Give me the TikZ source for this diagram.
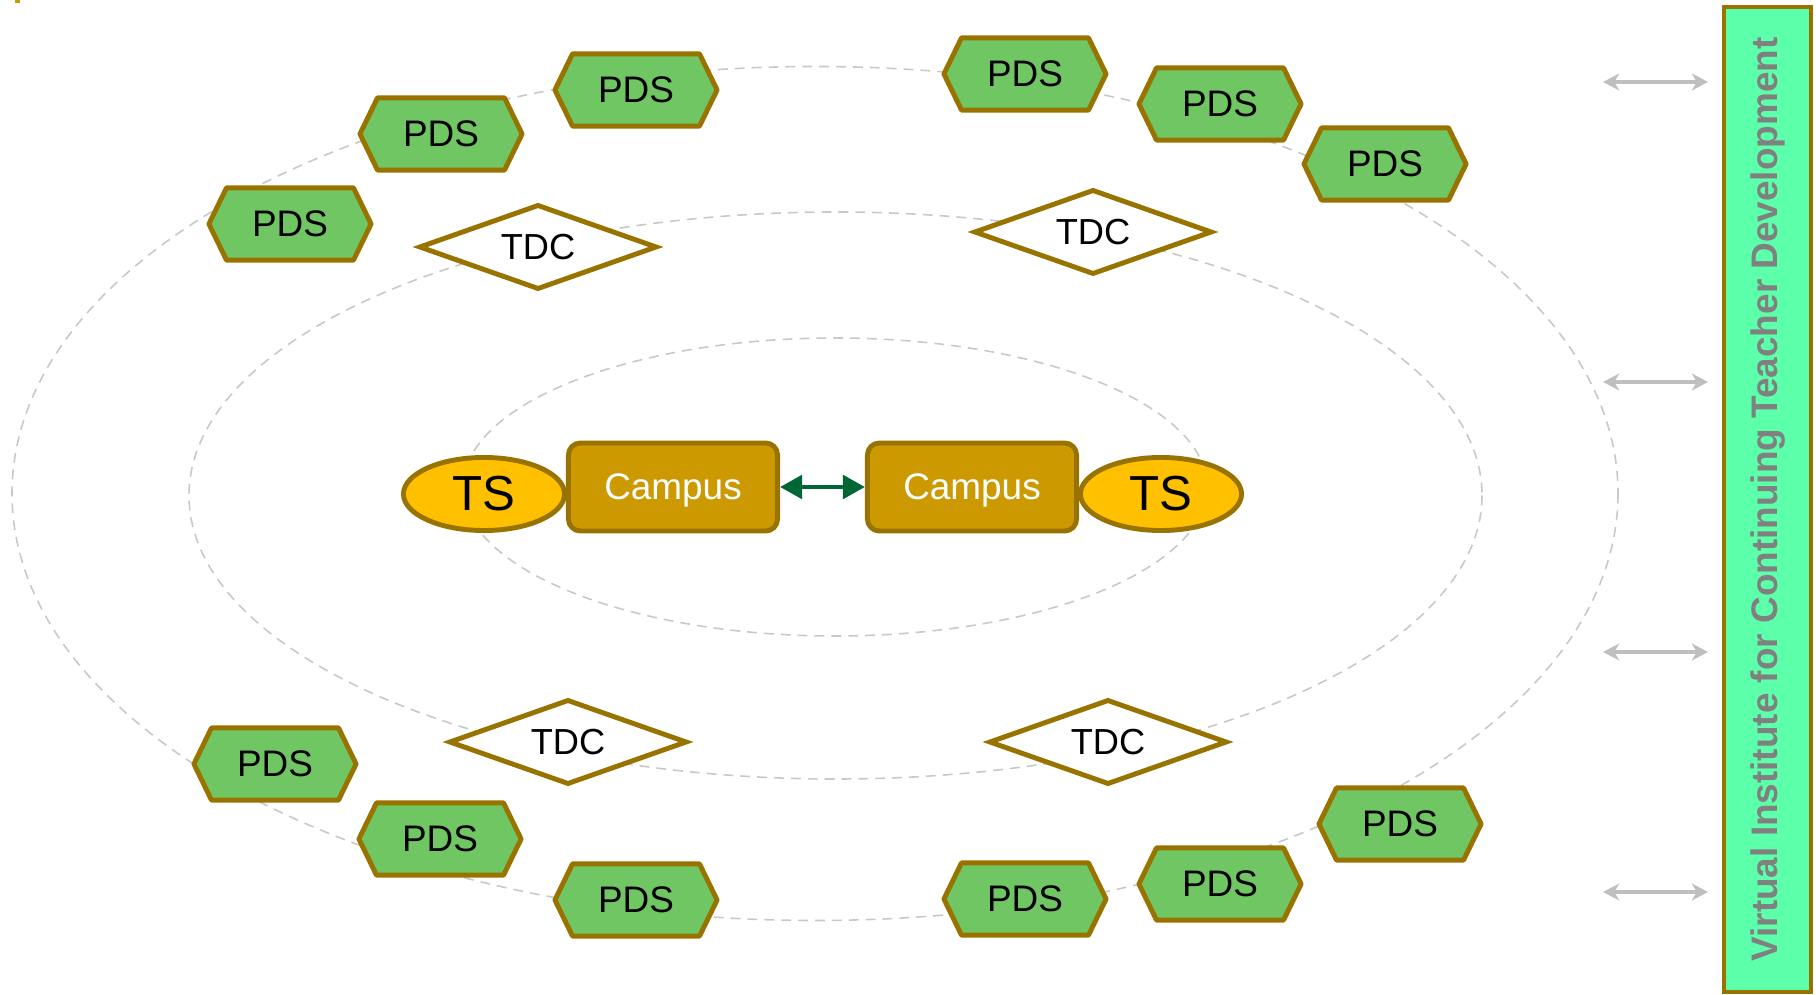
\documentclass[tikz,border=0pt]{standalone}
\usepackage{fontspec}
\setmainfont{Liberation Sans}
\usetikzlibrary{shapes.geometric,arrows.meta}

\definecolor{rimbrown}{RGB}{153,115,0}
\definecolor{pdsgreen}{RGB}{113,198,100}
\definecolor{tsyellow}{RGB}{255,192,0}
\definecolor{campusgold}{RGB}{204,153,0}
\definecolor{linkgreen}{RGB}{0,102,51}
\definecolor{vitdmint}{RGB}{92,255,170}
\definecolor{ringgray}{RGB}{200,200,200}
\definecolor{feedgray}{RGB}{191,191,191}
\definecolor{labelgray}{RGB}{128,128,128}

\begin{document}
\begin{tikzpicture}[x=0.01cm,y=-0.01cm,
  ring/.style={draw=ringgray, line width=0.45pt, dash pattern=on 2.8pt off 2pt},
  % hexagon drawn inside the node box, half a line width in from its edge
  pds/.style={rectangle, minimum width=1.67cm, minimum height=0.77cm, inner sep=0pt,
    font=\fontsize{10.5}{12}\selectfont,
    path picture={
      \path[fill=pdsgreen, draw=rimbrown, line width=1.4pt, line join=round]
        ([xshift=0.7pt]path picture bounding box.west)
        -- ([xshift=0.2cm,yshift=-0.7pt]path picture bounding box.north west)
        -- ([xshift=-0.2cm,yshift=-0.7pt]path picture bounding box.north east)
        -- ([xshift=-0.7pt]path picture bounding box.east)
        -- ([xshift=-0.2cm,yshift=0.7pt]path picture bounding box.south east)
        -- ([xshift=0.2cm,yshift=0.7pt]path picture bounding box.south west)
        -- cycle;}},
  tdc/.style={diamond, aspect=2.8, minimum width=2.38cm, minimum height=0.85cm,
    inner sep=0pt, draw=rimbrown, line width=1.4pt, fill=white,
    font=\fontsize{10.3}{12}\selectfont},
  ts/.style={ellipse, minimum width=1.61cm, minimum height=0.73cm, inner sep=0pt,
    draw=rimbrown, line width=1.4pt, fill=tsyellow,
    font=\fontsize{14}{16}\selectfont},
  campus/.style={rectangle, rounded corners=0.12cm, minimum width=2.09cm,
    minimum height=0.88cm, inner sep=0pt, text depth=0pt, draw=rimbrown,
    line width=1.4pt, fill=campusgold, text=white,
    font=\fontsize{10.5}{12}\selectfont},
  feed/.style={draw=feedgray, line width=1.3pt,
    {Stealth[length=4.6pt,width=4.8pt,inset=1.4pt]}-{Stealth[length=4.6pt,width=4.8pt,inset=1.4pt]}},
  link/.style={draw=linkgreen, line width=1.4pt,
    {Triangle[length=6.3pt,width=6.6pt]}-{Triangle[length=6.3pt,width=6.6pt]}}]
\useasboundingbox (0,0) rectangle (1816,995);
\fill[campusgold] (15,0) rectangle (20,3);

% rings
\draw[ring] (815,493.5) ellipse [x radius=803, y radius=427];
\draw[ring] (835.5,495.5) ellipse [x radius=646.5, y radius=283.5];
\draw[ring] (835,487) ellipse [x radius=372, y radius=149];

% outer ring
\node[pds] (pds1) at (290,224) {PDS};
\node[pds] (pds2) at (441,134) {PDS};
\node[pds] (pds3) at (636,90) {PDS};
\node[pds] (pds4) at (1025,74) {PDS};
\node[pds] (pds5) at (1220,104) {PDS};
\node[pds] (pds6) at (1385,164) {PDS};
\node[pds] (pds7) at (275,764) {PDS};
\node[pds] (pds8) at (440,839) {PDS};
\node[pds] (pds9) at (636,900) {PDS};
\node[pds] (pds10) at (1025,899) {PDS};
\node[pds] (pds11) at (1220,884) {PDS};
\node[pds] (pds12) at (1400,824) {PDS};

% middle ring
\node[tdc] (tdc1) at (538,247) {TDC};
\node[tdc] (tdc2) at (1093,232) {TDC};
\node[tdc] (tdc3) at (568,742) {TDC};
\node[tdc] (tdc4) at (1108,742) {TDC};

% centre
\node[campus] (campusL) at (673,487) {Campus};
\node[campus] (campusR) at (972,487) {Campus};
\node[ts] (tsL) at (484,494) {TS};
\node[ts] (tsR) at (1161,494) {TS};
\draw[link] (campusL) -- (campusR);

% virtual institute
\node[draw=rimbrown, line width=1.1pt, fill=vitdmint, rotate=90,
  minimum width=9.85cm, minimum height=0.87cm, inner sep=0pt,
  text=labelgray, font=\fontsize{10.5}{12}\selectfont\bfseries]
  (vitd) at (1767.5,499.5) {Virtual Institute for Continuing Teacher Development};

\foreach \y [count=\i] in {82,382,652,892} {
  \coordinate (fa\i) at (1603,\y);
  \coordinate (fb\i) at (1708,\y);
  \draw[feed] (fa\i) -- (fb\i);
}
\end{tikzpicture}
\end{document}
